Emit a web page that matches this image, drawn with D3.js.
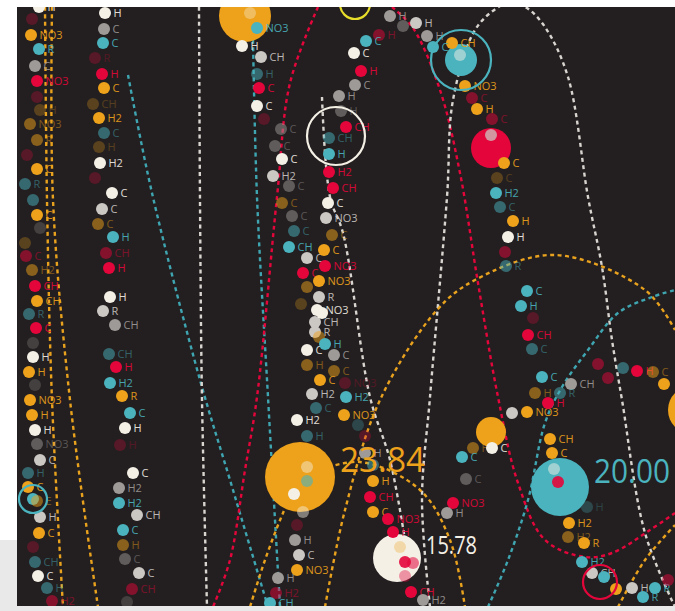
<!DOCTYPE html>
<html>
<head>
<meta charset="utf-8">
<script src="https://cdn.jsdelivr.net/npm/d3@7/dist/d3.min.js"></script>
<style>
  body { margin: 0; background: #fff; }
  svg { display: block; }
  .lbl { font-family: "Open Sans", sans-serif; font-size: 11px; }
  .val { font-family: "Open Sans", sans-serif; font-weight: 400; }
</style>
</head>
<body>
<svg id="chart"></svg>
<script>
// dots: [x, y, colour, label, level]  (level 1 = bright, 2 = dim, 3 = faint)
var strandA = [
  [39,7,'W','H',1],[32,19,'R','',3],[31,35,'O','NO3',1],[39,49,'T','R',1],[35,66,'G','C',1],
  [37,81,'R','NO3',1],[37,97,'R','',3],[40,110,'O','H',3],[30,124,'O','NO3',2],[37,140,'O','R',2],
  [27,155,'R','',3],[37,169,'O','C',1],[25,184,'T','R',2],[33,200,'T','',2],[37,215,'O','C',1],
  [40,228,'G','',3],[25,243,'O','',3],[26,256,'R','C',2],[32,270,'O','H2',2],[35,286,'R','CH',1],
  [37,301,'O','CH',1],[29,314,'T','R',2],[36,328,'R','C',1],[33,343,'G','',3],[33,357,'W','H',1],
  [29,372,'O','H',1],[35,385,'G','',3],[30,400,'O','NO3',1],[32,415,'O','H',1],[35,430,'W','H',1],
  [37,444,'G','NO3',2],[40,460,'L','C',1],[28,473,'T','H',2],[28,487,'O','C',1],[33,499,'T','',1],
  [37,501,'O','E',2],[40,517,'L','H',1],[39,533,'O','C',1],[33,547,'R','',3],[35,562,'T','CH',2],
  [38,576,'W','C',1],[47,588,'T','H',2],[52,601,'R','H2',2]
];
var strandB = [
  [105,13,'W','H',1],[104,29,'G','C',1],[103,43,'T','C',1],[95,58,'R','R',3],[102,74,'R','H',1],
  [104,88,'O','C',1],[93,104,'O','CH',3],[99,118,'O','H2',1],[104,133,'T','C',2],[99,147,'O','H',3],
  [100,163,'W','H2',1],[95,178,'R','',3],[112,193,'W','C',1],[102,209,'L','C',1],[98,224,'O','C',2],
  [113,237,'T','H',1],[106,253,'R','CH',2],[109,268,'R','H',1],[110,297,'W','H',1],[103,311,'L','R',1],
  [115,325,'G','CH',1],[109,354,'T','CH',2],[116,367,'R','H',1],[110,383,'T','H2',1],[122,396,'O','R',1],
  [130,413,'T','C',1],[125,428,'W','H',1],[120,445,'R','H',3],[133,473,'W','C',1],[119,488,'G','H2',1],
  [119,503,'T','H2',1],[137,515,'L','CH',1],[123,530,'T','C',1],[123,545,'O','H',2],[125,559,'G','C',2],
  [139,573,'L','C',1],[132,589,'R','CH',2],[127,602,'G','',3]
];
var strandC = [
  [257,28,'T','NO3',1],[242,46,'W','H',1],[261,57,'L','CH',1],[257,74,'T','H',2],[259,88,'R','C',1],
  [257,106,'W','C',1],[264,119,'R','',3],[281,129,'G','C',2],[275,146,'G','C',2],[282,159,'W','C',1],
  [273,176,'L','H2',1],[289,186,'G','C',2],[282,203,'O','C',2],[292,216,'G','C',2],[294,231,'T','C',2],
  [289,247,'T','CH',1],[307,258,'L','C',1],[303,273,'R','C',1],[307,287,'O','',2],[301,304,'O','',3],
  [315,322,'L','CH',1],[315,332,'L','R',1],[307,350,'W','C',1],[307,365,'O','H',2],[320,380,'O','C',1],
  [312,394,'L','H2',1],[316,408,'T','C',2],[297,420,'W','H2',1],[307,436,'T','H',2]
];
var strandD = [
  [390,16,'G','H',1],[403,26,'G','',2],[416,23,'L','H',1],[427,36,'G','H',1],[379,35,'R','H',2],
  [366,41,'T','C',1],[354,53,'W','C',1],[361,71,'R','H',1],[355,85,'G','C',1],[339,96,'G','H',1],
  [341,111,'G','H',2],[346,127,'R','CH',1],[329,138,'T','CH',2],[329,154,'T','H',1],[329,172,'R','H2',1],
  [333,188,'R','CH',1],[328,203,'W','C',1],[326,218,'L','NO3',1],[332,235,'O','C',2],[324,250,'O','C',1],
  [325,266,'R','NO3',1],[319,281,'O','NO3',1],[319,297,'L','R',1],[317,310,'W','NO3',1],[322,313,'W','',1],
  [319,337,'O','',2],[325,344,'T','H',1],[334,355,'G','C',1],[334,371,'O','C',2],[345,383,'R','NO3',3],
  [346,397,'T','H2',1],[344,415,'O','NO3',1],[358,425,'T','',3],[365,436,'R','',3]
];
var strandE = [
  [365,453,'G','H',1],[373,465,'T','',2],[373,481,'O','H',1],[370,497,'R','CH',1],[373,512,'O','C',1],
  [388,519,'R','NO3',1],[393,532,'R','H',1],[297,525,'R','',3],[295,540,'G','H',1],[299,555,'L','C',1],
  [297,570,'O','NO3',1],[278,578,'G','H',1],[276,593,'R','H2',2],[270,603,'T','CH',1],
  [411,592,'R','CH',1],[423,600,'G','H2',1]
];
var strandF = [
  [453,503,'R','NO3',1],[447,513,'G','H',1],[512,413,'L','',1],[527,412,'O','NO3',1],[548,403,'R','H',1],
  [473,448,'O','H',2],[462,457,'T','C',1],[466,479,'G','C',2],[492,448,'W','C',1],[550,439,'O','CH',1],
  [552,453,'O','C',1],[587,507,'T','H',3],[569,523,'O','H2',1],[568,537,'O','H2',2],[584,543,'O','R',1],
  [582,562,'T','H2',1],[592,573,'L','CH',1],[604,577,'T','',1],[616,589,'O','',1],[632,588,'L','H',1],
  [655,588,'T','R',1],[643,597,'T','R',1],[668,580,'R','',2]
];
var strandG = [
  [452,43,'O','CH',1],[433,47,'T','C',1],[465,86,'O','NO3',1],[472,98,'R','C',2],[477,109,'O','H',1],
  [492,119,'R','C',2],[504,163,'O','C',1],[497,178,'O','C',3],[496,193,'T','H2',1],[500,207,'T','C',2],
  [513,221,'O','H',1],[508,237,'W','H',1],[505,252,'R','',2],[506,266,'T','R',2],[527,291,'T','C',1],
  [521,306,'T','H',1],[533,318,'R','',3],[528,335,'R','CH',1],[532,349,'T','C',2],[542,377,'T','C',1],
  [571,384,'G','CH',1],[535,393,'O','H',2],[560,393,'T','R',2],[598,364,'R','',2],[608,378,'R','',2],
  [623,368,'T','',2],[637,371,'R','H',1],[653,372,'O','C',2],[664,384,'O','',1]
];

// big nodes: [x, y, r, colour, value]
var bigNodes = [
  [245,16,26,'O',''],[461,60,16,'T',''],[491,148,20,'R',''],[300,477,35,'O','23.84'],
  [397,558,24,'W','15.78'],[560,487,29,'T','20.00'],[491,432,15,'O',''],[692,410,24,'O','']
];
// dots inside big nodes: [x, y, colour, opacity]
var innerDots = [
  [250,13,'W',0.35],[460,55,'W',0.5],[491,135,'L',0.75],
  [307,467,'W',0.45],[307,481,'T',0.6],[294,494,'W',1],[303,512,'W',0.45],
  [400,547,'O',0.3],[405,562,'R',0.9],[413,563,'R',0.55],[405,576,'R',0.4],
  [554,469,'W',0.5],[558,482,'R',0.9]
];
// rings: [x, y, r, colour]
var rings = [[461,60,30,'T'],[336,136,29,'W'],[33,499,14,'T'],[600,582,17,'R'],[355,4,15,'Y']];

// dashed trails
var trailColours = ['O','O','T','T','R','R','W','W','W','O','O','O','O','T'];
var trailPoints = [
  [[45,7],[47,200],[52,400],[63,607]],
  [[52,7],[53,200],[70,400],[98,607]],
  [[128,75],[152,193],[200,380],[230,480],[268,607]],
  [[253,40],[257,197],[268,397],[280,607]],
  [[318,7],[290,83],[277,197],[257,397],[245,470],[230,560],[213,607]],
  [[392,7],[413,28],[440,90],[460,173],[478,283],[498,397],[518,483],[545,540],[585,557],[612,553],[650,530],[675,513]],
  [[199,7],[200,200],[202,400],[207,607]],
  [[322,97],[330,197],[343,233],[370,397],[390,460],[405,540]],
  [[430,607],[422,500],[430,397],[447,197],[453,100],[475,30],[497,8],[512,2],[527,8],[545,27],[568,77],[588,197],[602,267],[612,340],[622,400],[645,533],[675,607]],
  [[325,607],[345,510],[380,400],[437,310],[475,280],[555,255],[645,290],[675,330]],
  [[300,477],[360,462],[420,490],[450,540],[465,607]],
  [[300,477],[283,513],[265,560],[250,607]],
  [[618,607],[645,560],[675,525]],
  [[488,607],[508,560],[528,500],[545,423],[562,387],[588,350],[618,313],[652,297],[675,290]]
];

var width = 675, height = 611;
var frame = {left: 17, top: 7, right: 675, bottom: 606};

var colour = {O:'#eea21b', T:'#4ab3be', R:'#e4063b', W:'#f4f0e6', G:'#9e9a97', L:'#cbc7c3', Y:'#e6dc2a'};
var trailColour = {O:'#e9a21d', T:'#3fa6b1', R:'#e4063b', W:'#d8d4cf'};
var levelOpacity = {1: 1, 2: 0.5, 3: 0.27};

var x = d3.scaleLinear().domain([0, 675]).range([0, width]);
var y = d3.scaleLinear().domain([0, 611]).range([0, height]);

var svg = d3.select("#chart").attr("width", width).attr("height", height);

// grey margins
svg.append("rect").attr("x", 0).attr("y", 540).attr("width", frame.left).attr("height", height - 540).attr("fill", "#e9e9e9");
svg.append("rect").attr("x", 0).attr("y", frame.bottom).attr("width", width).attr("height", height - frame.bottom).attr("fill", "#e9e9e9");

svg.append("clipPath").attr("id", "clip")
  .append("rect").attr("x", frame.left).attr("y", frame.top)
  .attr("width", frame.right - frame.left).attr("height", frame.bottom - frame.top);

var g = svg.append("g").attr("clip-path", "url(#clip)");
g.append("rect").attr("x", frame.left).attr("y", frame.top)
  .attr("width", frame.right - frame.left).attr("height", frame.bottom - frame.top)
  .attr("fill", "#231f20");

var line = d3.line()
  .x(function(d) { return x(d[0]); })
  .y(function(d) { return y(d[1]); })
  .curve(d3.curveCatmullRom.alpha(0.5));

g.selectAll(".trail")
  .data(trailPoints)
  .enter().append("path")
  .attr("class", "trail")
  .attr("d", line)
  .attr("fill", "none")
  .attr("stroke", function(d, i) { return trailColour[trailColours[i]]; })
  .attr("stroke-width", 2.4)
  .attr("stroke-dasharray", "4,3.5");

g.selectAll(".big")
  .data(bigNodes)
  .enter().append("circle")
  .attr("class", "big")
  .attr("cx", function(d) { return x(d[0]); })
  .attr("cy", function(d) { return y(d[1]); })
  .attr("r", function(d) { return d[2]; })
  .attr("fill", function(d) { return colour[d[3]]; });

g.selectAll(".inner")
  .data(innerDots)
  .enter().append("circle")
  .attr("class", "inner")
  .attr("cx", function(d) { return x(d[0]); })
  .attr("cy", function(d) { return y(d[1]); })
  .attr("r", 6)
  .attr("fill", function(d) { return colour[d[2]]; })
  .attr("opacity", function(d) { return d[3]; });

var dots = [].concat(strandA, strandB, strandC, strandD, strandE, strandF, strandG);

var dot = g.selectAll(".dot")
  .data(dots)
  .enter().append("g")
  .attr("class", "dot")
  .attr("opacity", function(d) { return levelOpacity[d[4]]; });

dot.append("circle")
  .attr("cx", function(d) { return x(d[0]); })
  .attr("cy", function(d) { return y(d[1]); })
  .attr("r", 6)
  .attr("fill", function(d) { return colour[d[2]]; });

dot.append("text")
  .attr("class", "lbl")
  .attr("x", function(d) { return x(d[0]) + 8.5; })
  .attr("y", function(d) { return y(d[1]) + 4; })
  .attr("fill", function(d) { return colour[d[2]]; })
  .attr("opacity", 0.9)
  .text(function(d) { return d[3]; });

g.selectAll(".ring")
  .data(rings)
  .enter().append("circle")
  .attr("class", "ring")
  .attr("cx", function(d) { return x(d[0]); })
  .attr("cy", function(d) { return y(d[1]); })
  .attr("r", function(d) { return d[2]; })
  .attr("fill", "none")
  .attr("stroke", function(d) { return colour[d[3]]; })
  .attr("stroke-width", 2.2);

// value labels beside the big nodes, sized by the node
var valued = bigNodes.filter(function(d) { return d[4] !== ''; });
g.selectAll(".val")
  .data(valued)
  .enter().append("text")
  .attr("class", "val")
  .attr("x", function(d) { return x(d[0]) + d[2] + 5; })
  .attr("y", function(d) { return y(d[1]) + (d[2] > 30 ? -5 : -4); })
  .attr("font-size", function(d) { return d[2] > 30 ? 35 : (d[2] > 25 ? 32 : 25); })
  .attr("textLength", function(d) { return d[2] > 30 ? 85 : (d[2] > 25 ? 76 : 51); })
  .attr("lengthAdjust", "spacingAndGlyphs")
  .attr("fill", function(d) { return colour[d[3]]; })
  .text(function(d) { return d[4]; });
</script>
</body>
</html>
